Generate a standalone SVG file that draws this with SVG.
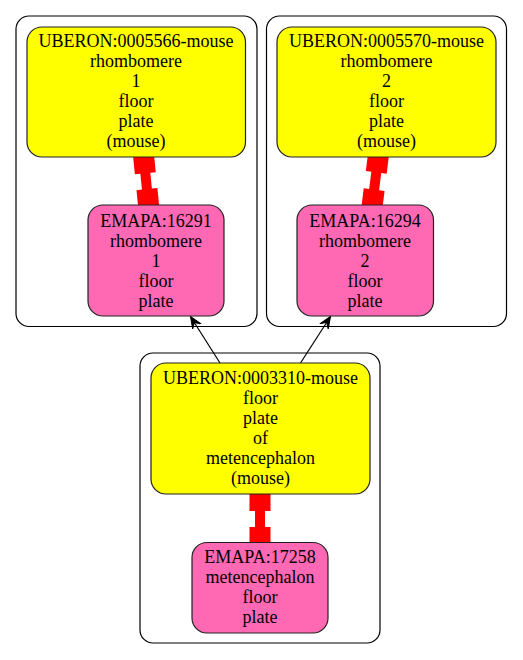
<svg xmlns="http://www.w3.org/2000/svg" width="523" height="660" viewBox="0 0 523 660">
<defs>
<style>
.cl{fill:#ffffff;stroke:#000000;stroke-width:1.2}
.y{fill:#ffff00;stroke:#222222;stroke-width:1.2}
.p{fill:#ff69b4;stroke:#222222;stroke-width:1.2}
text{font-family:"Liberation Serif","Times New Roman",serif;font-size:18px;fill:#000000;text-anchor:middle}
.red{fill:#ff0000;stroke:none}
.arr{stroke:#000000;stroke-width:1.2;fill:none}
</style>
<marker id="vee" markerUnits="userSpaceOnUse" markerWidth="14" markerHeight="12" viewBox="-12 -6 14 12" refX="0" refY="0" orient="auto">
<path d="M0,0 L-12,-5 L-7,0 L-12,5 Z" fill="#000000" stroke="#000000" stroke-width="1"/>
</marker>
</defs>
<rect width="523" height="660" fill="#ffffff"/>
<g id="clusters">
<rect class="cl" x="16" y="16" width="241" height="310.5" rx="13"/>
<rect class="cl" x="266.5" y="16" width="240" height="310.5" rx="13"/>
<rect class="cl" x="140" y="353" width="240" height="290" rx="13"/>
</g>
<g id="connectors">
<g transform="translate(143.3,153.3) rotate(-5.8)"><polygon class="red" points="-10.5,0 10.5,0 10.5,20 5,20 5,36 10.5,36 10.5,56 -10.5,56 -10.5,36 -5,36 -5,20 -10.5,20"/></g>
<g transform="translate(378.7,152.5) rotate(7)"><polygon class="red" points="-10.5,0 10.5,0 10.5,20 5,20 5,37.4 10.5,37.4 10.5,57.4 -10.5,57.4 -10.5,37.4 -5,37.4 -5,20 -10.5,20"/></g>
<g transform="translate(260,490)"><polygon class="red" points="-10.5,0 10.5,0 10.5,21 5,21 5,37 10.5,37 10.5,58 -10.5,58 -10.5,37 -5,37 -5,21 -10.5,21"/></g>
<line class="arr" x1="220" y1="363" x2="190.5" y2="316.5" marker-end="url(#vee)"/>
<line class="arr" x1="300.5" y1="363" x2="330.5" y2="316.5" marker-end="url(#vee)"/>
</g>
<g id="n_uberon_0005566">
<rect class="y" x="27" y="27" width="218.5" height="130" rx="15"/>
<text x="136" y="47">UBERON:0005566-mouse</text>
<text x="136" y="67">rhombomere</text>
<text x="136" y="87">1</text>
<text x="136" y="107">floor</text>
<text x="136" y="127">plate</text>
<text x="136" y="147">(mouse)</text>
</g>
<g id="n_emapa_16291">
<rect class="p" x="88" y="205" width="136" height="111" rx="15"/>
<text x="156" y="226.5">EMAPA:16291</text>
<text x="156" y="246.5">rhombomere</text>
<text x="156" y="266.5">1</text>
<text x="156" y="286.5">floor</text>
<text x="156" y="306.5">plate</text>
</g>
<g id="n_uberon_0005570">
<rect class="y" x="277" y="27" width="219" height="130" rx="15"/>
<text x="386.5" y="47">UBERON:0005570-mouse</text>
<text x="386.5" y="67">rhombomere</text>
<text x="386.5" y="87">2</text>
<text x="386.5" y="107">floor</text>
<text x="386.5" y="127">plate</text>
<text x="386.5" y="147">(mouse)</text>
</g>
<g id="n_emapa_16294">
<rect class="p" x="297" y="205" width="136.5" height="111" rx="15"/>
<text x="365" y="226.5">EMAPA:16294</text>
<text x="365" y="246.5">rhombomere</text>
<text x="365" y="266.5">2</text>
<text x="365" y="286.5">floor</text>
<text x="365" y="306.5">plate</text>
</g>
<g id="n_uberon_0003310">
<rect class="y" x="151" y="363" width="219" height="131" rx="15"/>
<text x="260.5" y="383.5">UBERON:0003310-mouse</text>
<text x="260.5" y="403.5">floor</text>
<text x="260.5" y="423.5">plate</text>
<text x="260.5" y="443.5">of</text>
<text x="260.5" y="463.5">metencephalon</text>
<text x="260.5" y="483.5">(mouse)</text>
</g>
<g id="n_emapa_17258">
<rect class="p" x="192" y="542.5" width="136" height="90.5" rx="15"/>
<text x="260" y="563">EMAPA:17258</text>
<text x="260" y="583">metencephalon</text>
<text x="260" y="603">floor</text>
<text x="260" y="623">plate</text>
</g>
</svg>
